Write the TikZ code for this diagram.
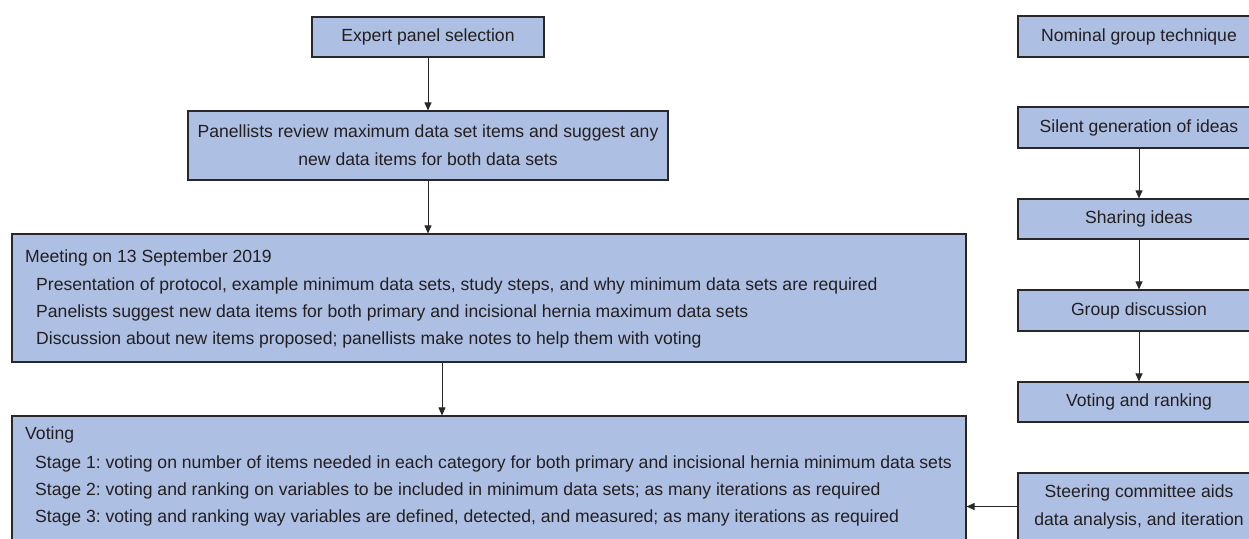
\documentclass[tikz,border=0pt]{standalone}
\usepackage{fontspec}
\setmainfont{Liberation Sans}
\usetikzlibrary{arrows.meta}
\definecolor{boxfill}{RGB}{173,191,227}
\definecolor{boxline}{RGB}{40,40,42}
\definecolor{txt}{RGB}{35,31,32}
\frenchspacing
\begin{document}
\begin{tikzpicture}[x=1pt,y=-1pt,
  font=\fontsize{17.6}{28}\selectfont, text=txt,
  box/.style={draw=boxline, fill=boxfill, line width=1.1pt, inner sep=0pt, align=center},
  line/.style={anchor=base west, inner sep=0pt},
  arr/.style={draw=boxline, line width=0.9pt, -{Triangle[length=8pt,width=7pt]}}]
\useasboundingbox (0,0) rectangle (1249,538);
% left column
\node[box, minimum width=232pt, minimum height=40pt] (expert) at (428,37) {Expert panel selection};
\node[box, minimum width=480pt, minimum height=69pt] (panel) at (428,145.5)
  {Panellists review maximum data set items and suggest any\\new data items for both data sets};
\node[box, minimum width=954pt, minimum height=128pt] (meet) at (489,298) {};
\node[line] (m0) at (25,262) {Meeting on 13 September 2019};
\node[line] (m1) at (36,290) {Presentation of protocol, example minimum data sets, study steps, and why minimum data sets are required};
\node[line] (m2) at (36,317) {Panelists suggest new data items for both primary and incisional hernia maximum data sets};
\node[line] (m3) at (36,344) {Discussion about new items proposed; panellists make notes to help them with voting};
\node[box, minimum width=954pt, minimum height=132pt] (vote) at (489,482) {};
\node[line] (v0) at (25,439) {Voting};
\node[line] (v1) at (35,468) {Stage 1: voting on number of items needed in each category for both primary and incisional hernia minimum data sets};
\node[line] (v2) at (35,495) {Stage 2: voting and ranking on variables to be included in minimum data sets; as many iterations as required};
\node[line] (v3) at (35,522) {Stage 3: voting and ranking way variables are defined, detected, and measured; as many iterations as required};
% right column
\node[box, minimum width=242pt, minimum height=41pt] (nom) at (1139,36.5) {Nominal group technique};
\node[box, minimum width=242pt, minimum height=41pt] (silent) at (1139,127.5) {Silent generation of ideas};
\node[box, minimum width=242pt, minimum height=40pt] (share) at (1139,219) {Sharing ideas};
\node[box, minimum width=242pt, minimum height=41pt] (group) at (1139,310.5) {Group discussion};
\node[box, minimum width=242pt, minimum height=40pt] (rank) at (1139,402) {Voting and ranking};
\node[box, minimum width=242pt, minimum height=67pt] (steer) at (1139,506.5)
  {Steering committee aids\\data analysis, and iteration};
% connectors
\draw[arr] (expert) -- (panel);
\draw[arr] (panel) -- (panel |- meet.north);
\coordinate (a3) at (442,362);
\draw[arr] (a3) -- (a3 |- vote.north);
\draw[arr] (silent) -- (share);
\draw[arr] (share) -- (group);
\draw[arr] (group) -- (rank);
\draw[arr] (steer.west) -- (steer.west -| vote.east);
\end{tikzpicture}
\end{document}
